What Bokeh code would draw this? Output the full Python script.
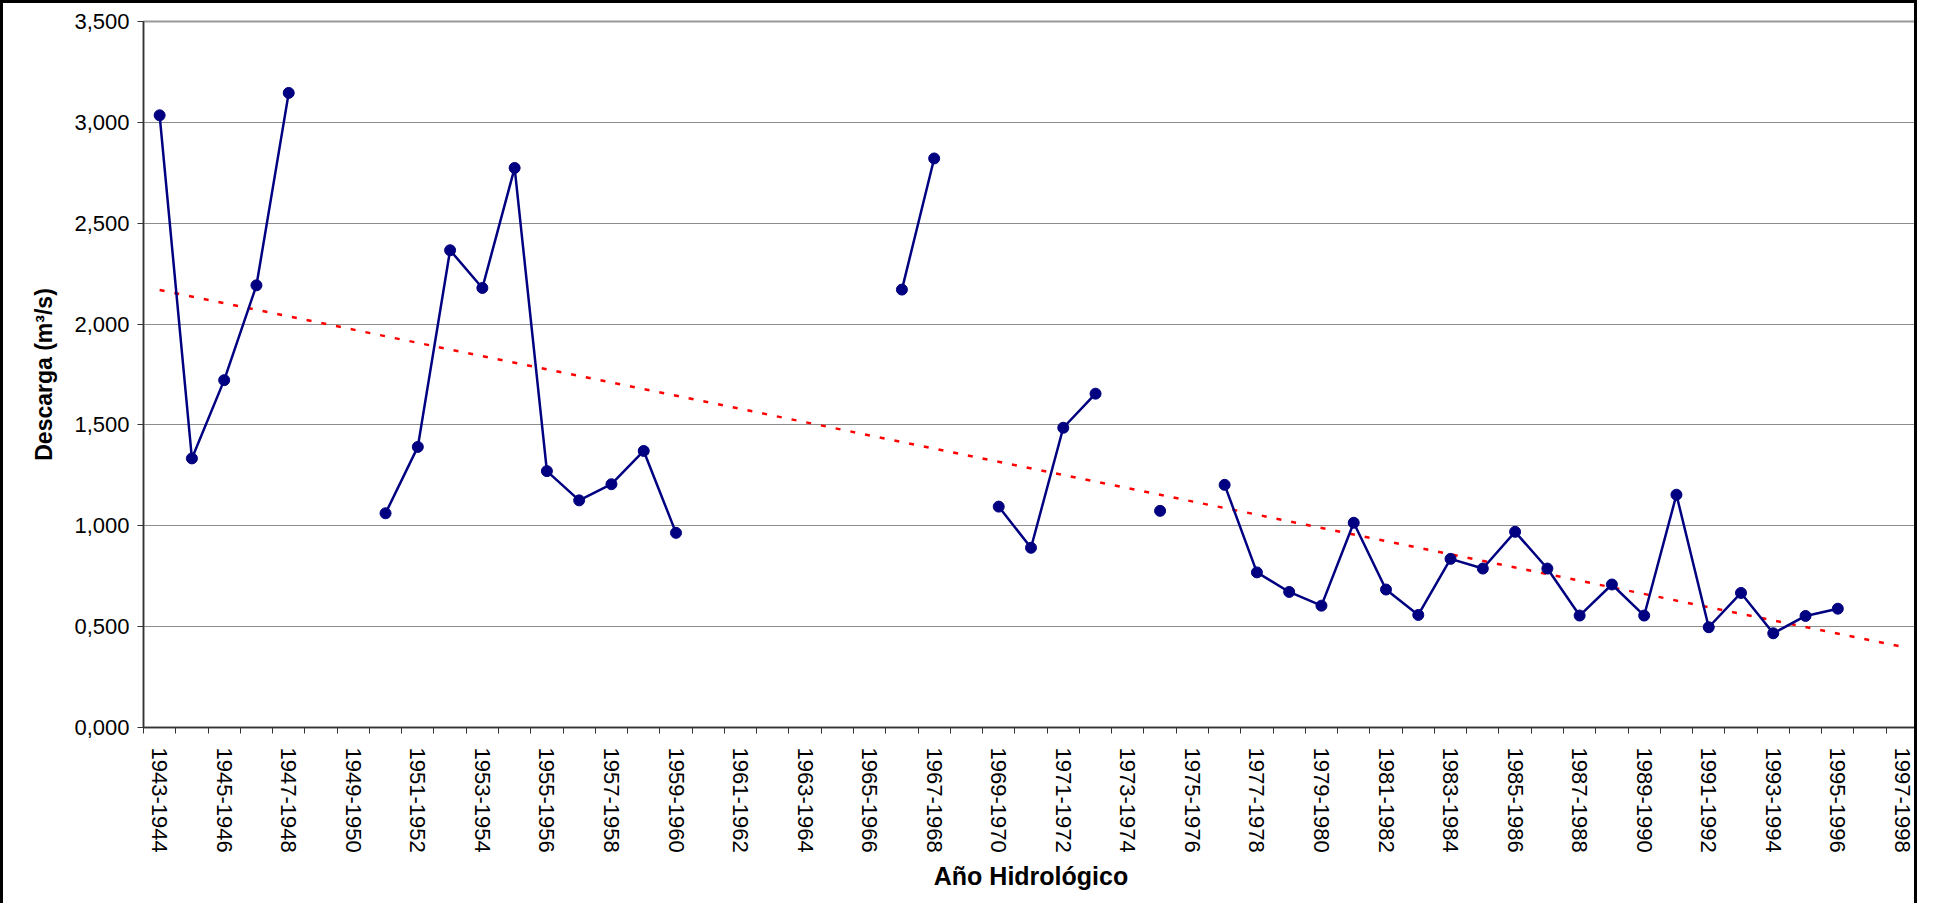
import numpy as np
from bokeh.plotting import figure
from bokeh.models import FixedTicker, CustomJSTickFormatter, Range1d, ColumnDataSource
from bokeh.embed import file_html
from bokeh.resources import INLINE

# ---------------- data ----------------
categories = [
    "1943-1944", "1944-1945", "1945-1946", "1946-1947", "1947-1948", "1948-1949",
    "1949-1950", "1950-1951", "1951-1952", "1952-1953", "1953-1954", "1954-1955",
    "1955-1956", "1956-1957", "1957-1958", "1958-1959", "1959-1960", "1960-1961",
    "1961-1962", "1962-1963", "1963-1964", "1964-1965", "1965-1966", "1966-1967",
    "1967-1968", "1968-1969", "1969-1970", "1970-1971", "1971-1972", "1972-1973",
    "1973-1974", "1974-1975", "1975-1976", "1976-1977", "1977-1978", "1978-1979",
    "1979-1980", "1980-1981", "1981-1982", "1982-1983", "1983-1984", "1984-1985",
    "1985-1986", "1986-1987", "1987-1988", "1988-1989", "1989-1990", "1990-1991",
    "1991-1992", "1992-1993", "1993-1994", "1994-1995", "1995-1996", "1996-1997",
    "1997-1998",
]

descarga = [
    3.035, 1.334, 1.722, 2.192, 3.146, None,
    None, 1.062, 1.391, 2.366, 2.179, 2.774,
    1.271, 1.126, 1.206, 1.371, 0.965, None,
    None, None, None, None, None, 2.171,
    2.821, None, 1.095, 0.891, 1.486, 1.655,
    None, 1.074, None, 1.203, 0.769, 0.672,
    0.604, 1.015, 0.684, 0.558, 0.836, 0.788,
    0.970, 0.788, 0.555, 0.709, 0.555, 1.154,
    0.497, 0.667, 0.467, 0.553, 0.589, None,
    None,
]

trend_categories = ["1943-1944", "1997-1998"]
trend_values = [2.169, 0.400]

y_ticks = [0.0, 0.5, 1.0, 1.5, 2.0, 2.5, 3.0, 3.5]
label_categories = categories[::2]

# ---------------- positions via category index ----------------
pos = {c: i + 0.5 for i, c in enumerate(categories)}
xs = np.array([pos[c] for c in categories])
ys = np.array([np.nan if v is None else v for v in descarga], dtype=float)
src = ColumnDataSource(dict(x=xs, y=ys))

FONT = "Liberation Sans"

p = figure(
    width=1917, height=903,
    output_backend="svg", toolbar_location=None,
    x_range=Range1d(0, len(categories)), y_range=Range1d(0, 3.5),
    min_border_left=140, min_border_right=2, min_border_top=18, min_border_bottom=179,
    background_fill_color="white", border_fill_color="white",
)
p.styles = {"border-top": "3px solid black", "border-left": "3px solid black",
            "border-right": "3px solid black", "box-sizing": "border-box"}

p.outline_line_color = "#999999"
p.outline_line_width = 2

# grid
p.xgrid.visible = False
p.ygrid.ticker = FixedTicker(ticks=y_ticks)
p.ygrid.grid_line_color = "#8c8c8c"
p.ygrid.grid_line_width = 1

# y axis
p.yaxis.ticker = FixedTicker(ticks=y_ticks)
p.yaxis.formatter = CustomJSTickFormatter(code="return tick.toFixed(3).replace('.', ',');")
p.yaxis.major_tick_in = 0
p.yaxis.major_tick_out = 6
p.yaxis.minor_tick_line_color = None
p.yaxis.axis_line_color = "#333333"
p.yaxis.axis_line_width = 1.5
p.yaxis.major_tick_line_color = "#333333"
p.yaxis.major_label_text_font = FONT
p.yaxis.major_label_text_font_size = "22px"
p.yaxis.major_label_text_color = "black"
p.yaxis.major_label_standoff = 8
p.yaxis.axis_label = "Descarga (m³/s)"
p.yaxis.axis_label_text_font = FONT
p.yaxis.axis_label_text_font_style = "bold"
p.yaxis.axis_label_text_font_size = "23px"
p.yaxis.axis_label_text_color = "black"
p.yaxis.axis_label_standoff = 14

# x axis: labels at centers of every other category, tick marks at boundaries
label_pos = [pos[c] for c in label_categories]
p.xaxis.ticker = FixedTicker(ticks=label_pos, minor_ticks=list(range(len(categories) + 1)))
p.xaxis.major_label_overrides = {pos[c]: c for c in label_categories}
p.xaxis.major_tick_in = 0
p.xaxis.major_tick_out = 0
p.xaxis.minor_tick_in = 0
p.xaxis.minor_tick_out = 6
p.xaxis.minor_tick_line_color = "#333333"
p.xaxis.minor_tick_line_width = 1
p.xaxis.axis_line_color = "#333333"
p.xaxis.axis_line_width = 1.5
p.xaxis.major_label_orientation = "vertical"
p.xaxis.major_label_text_font = FONT
p.xaxis.major_label_text_font_size = "22px"
p.xaxis.major_label_text_color = "black"
p.xaxis.major_label_standoff = 14
p.xaxis.axis_label = "Año Hidrológico"
p.xaxis.axis_label_text_font = FONT
p.xaxis.axis_label_text_font_style = "bold"
p.xaxis.axis_label_text_font_size = "25px"
p.xaxis.axis_label_text_color = "black"
p.xaxis.axis_label_standoff = 6

# trend line
p.line([pos[c] for c in trend_categories], trend_values,
       line_color="red", line_width=2.5, line_dash="5 10")

# series
p.line("x", "y", source=src, line_color="#000080", line_width=2.5)
p.scatter("x", "y", source=src, size=11, fill_color="#000080", line_color="#000080")

open("out.html", "w").write(file_html(p, INLINE))
